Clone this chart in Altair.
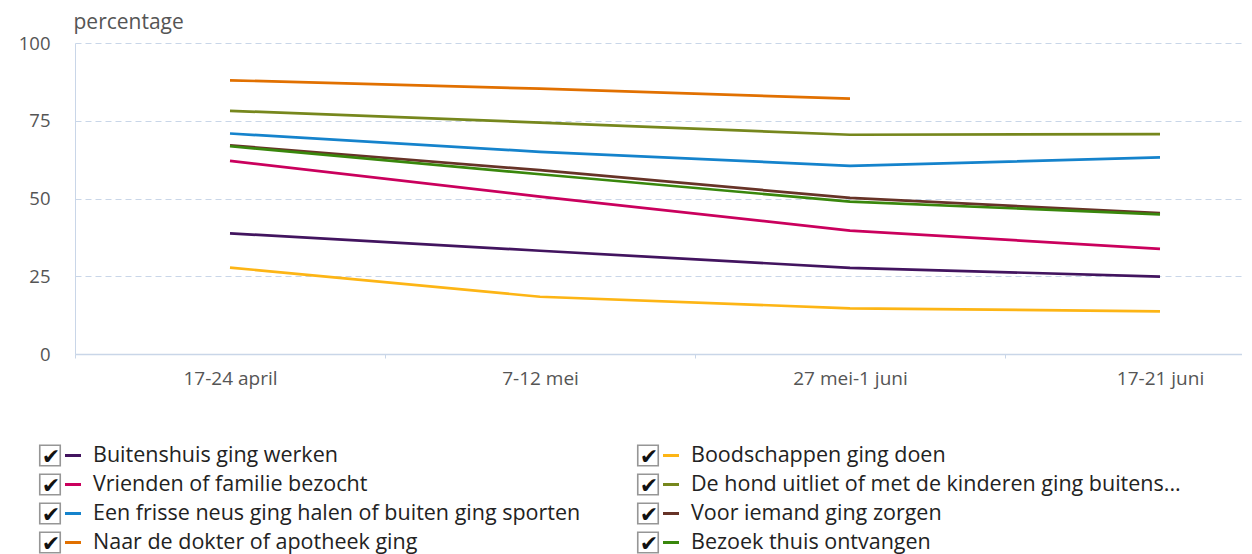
import json
import altair as alt
import pandas as pd

periods = ["17-24 april", "7-12 mei", "27 mei-1 juni", "17-21 juni"]

series = [
    "Buitenshuis ging werken",
    "Vrienden of familie bezocht",
    "Een frisse neus ging halen of buiten ging sporten",
    "Naar de dokter of apotheek ging",
    "Boodschappen ging doen",
    "De hond uitliet of met de kinderen ging buitens...",
    "Voor iemand ging zorgen",
    "Bezoek thuis ontvangen",
]
colors = ["#42145f", "#ca005d", "#1583cc", "#e17000", "#fdb515", "#76871d", "#673327", "#39870c"]

werken = [38.8, 33.2, 27.7, 24.9]
vrienden = [62.1, 50.6, 39.7, 33.8]
frisse = [70.9, 65.0, 60.5, 63.2]
dokter = [88.0, 85.3, 82.1]
boodschappen = [27.8, 18.4, 14.7, 13.7]
hond = [78.2, 74.4, 70.5, 70.7]
zorgen = [67.1, 59.1, 50.2, 45.3]
bezoek = [66.8, 57.8, 49.0, 44.9]

values = [werken, vrienden, frisse, dokter, boodschappen, hond, zorgen, bezoek]

rows = []
for k, (s, vals) in enumerate(zip(series, values)):
    for i, v in enumerate(vals):
        rows.append({"serie": s, "i": i, "periode": periods[i], "pct": v, "k": k})
df = pd.DataFrame(rows)

legend_df = pd.DataFrame({
    "serie": series,
    "col": [k // 4 for k in range(len(series))],
    "row": [k % 4 for k in range(len(series))],
})

FONT = "Open Sans"
GRID = "#c9d6e8"
W = 1167
STEP = 310

color = alt.Color("serie:N", scale=alt.Scale(domain=series, range=colors), legend=None)

x = alt.X(
    "i:Q",
    scale=alt.Scale(domain=[-0.5, -0.5 + W / STEP], nice=False, zero=False),
    axis=alt.Axis(
        values=[0, 1, 2, 3],
        labelExpr=json.dumps(periods) + "[datum.value]",
        title=None, grid=False,
        tickOffset=-STEP / 2, labelOffset=STEP / 2,
        tickSize=4, tickColor=GRID, domainColor=GRID, domainWidth=1.5,
        labelFont=FONT, labelFontSize=19, labelColor="#555555", labelPadding=11,
    ),
)
y = alt.Y(
    "pct:Q",
    scale=alt.Scale(domain=[0, 100], nice=False),
    axis=alt.Axis(
        values=[0, 25, 50, 75, 100],
        ticks=False, labelPadding=25,
        gridDash=[6, 4], gridColor=GRID, domainColor=GRID,
        labelFont=FONT, labelFontSize=18.5, labelColor="#555555",
        title="percentage", titleAngle=0, titleAlign="left", titleBaseline="alphabetic",
        titleX=-2, titleY=-15, titleFont=FONT, titleFontSize=21,
        titleFontWeight="normal", titleColor="#555555",
    ),
)

lines = alt.Chart(df).mark_line(strokeWidth=2.7).encode(
    x=x, y=y, color=color, detail="serie:N", order="i:Q"
).properties(width=W, height=311)

lx = alt.X("col:Q", scale=alt.Scale(domain=[0, W / 598], nice=False), axis=None)
ly = alt.Y("row:Q", scale=alt.Scale(domain=[-0.5, 3.5], reverse=True, nice=False), axis=None)

boxes = alt.Chart(legend_df).mark_point(
    shape="square", filled=False, size=420, strokeWidth=1.6, color="#6a6a6a", xOffset=-25
).encode(x=lx, y=ly)

checks = alt.Chart(legend_df).mark_text(
    text="✔", font="DejaVu Sans", fontSize=22, align="center",
    baseline="middle", dx=-24, dy=1, color="#111111"
).encode(x=lx, y=ly)

dashes = alt.Chart(legend_df).mark_rule(strokeWidth=3, xOffset=-10, x2Offset=6).encode(
    x=lx, x2="col:Q", y=ly, color=color
)

labels = alt.Chart(legend_df).mark_text(
    font=FONT, fontSize=21.5, align="left", baseline="middle", dx=18, color="#222222"
).encode(x=lx, y=ly, text="serie:N")

legend = alt.layer(boxes, checks, dashes, labels).properties(width=W, height=116)

chart = alt.vconcat(lines, legend, spacing=53).configure_view(stroke=None).properties(
    padding={"left": 10, "top": 3, "right": 0, "bottom": 0}
)

chart.save("out.html", embed_options={"renderer": "svg", "actions": False})
